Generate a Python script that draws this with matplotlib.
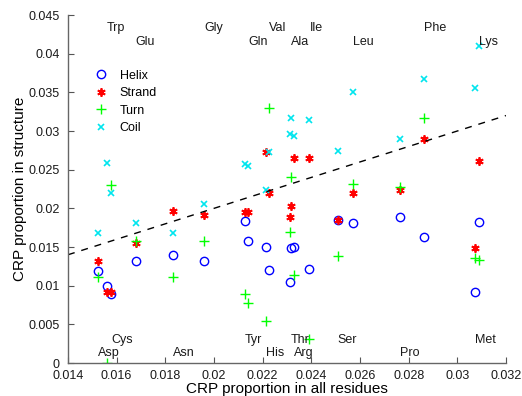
import matplotlib
matplotlib.use("Agg")
import matplotlib.pyplot as plt
from matplotlib.ticker import FuncFormatter
import numpy as np

plt.rcParams['font.family'] = ['Liberation Sans', 'DejaVu Sans']

# amino acids, sorted by their proportion in all residues
residues = ['Asp', 'Trp', 'Cys', 'Glu', 'Asn', 'Gly', 'Tyr', 'Gln', 'His', 'Val',
            'Thr', 'Ala', 'Arg', 'Ile', 'Ser', 'Leu', 'Pro', 'Phe', 'Met', 'Lys']
x_all = [0.01522, 0.01559, 0.01577, 0.01678, 0.01830, 0.01959, 0.02127, 0.02141,
         0.02214, 0.02227, 0.02314, 0.02316, 0.02330, 0.02392, 0.02508, 0.02572,
         0.02764, 0.02863, 0.03073, 0.03089]
helix = [0.01190, 0.01000, 0.00888, 0.01319, 0.01397, 0.01319, 0.01836, 0.01578,
         0.01500, 0.01203, 0.01047, 0.01491, 0.01500, 0.01216, 0.01849, 0.01810,
         0.01884, 0.01625, 0.00922, 0.01819]
strand = [0.01319, 0.00918, 0.00918, 0.01548, 0.01966, 0.01914, 0.01949, 0.01949,
          0.02732, 0.02194, 0.01888, 0.02030, 0.02655, 0.02655, 0.01849, 0.02202,
          0.02237, 0.02897, 0.01483, 0.02612]
turn = [0.01110, 0.0, 0.02302, 0.01582, 0.01116, 0.01582, 0.00892, 0.00776,
        0.00543, 0.03294, 0.01690, 0.02409, 0.01142, 0.00306, 0.01384, 0.02315,
        0.02280, 0.03164, 0.01354, 0.01332]
coil = [0.01677, 0.02582, 0.02202, 0.01810, 0.01677, 0.02056, 0.02567, 0.02548,
        0.02237, 0.02732, 0.02961, 0.03172, 0.02939, 0.03142, 0.02745, 0.03504,
        0.02897, 0.03673, 0.03560, 0.04103]

xlim = (0.014, 0.032)
ylim = (0, 0.045)

fig = plt.figure(figsize=(5.22, 3.96), dpi=100)
ax = fig.add_axes([0.1303, 0.0833, 0.8390, 0.8788])

ax.plot(x_all, helix, 'o', mfc='none', mec='#0000ff', ms=6, mew=1.0, label='Helix')
ax.plot(x_all, strand, ls='none', marker=(6, 2, 0), color='#ff0000', ms=6, mew=1.3, label='Strand')
ax.plot(x_all, turn, '+', color='#00ff00', ms=7, mew=1.0, label='Turn')
ax.plot(x_all, coil, 'x', color='#00e5ee', ms=4, mew=1.2, label='Coil')

# y = x reference line
ax.plot(xlim, xlim, '--', color='black', lw=1.0, dashes=(5, 5))

# residue names: alternate bottom-low, top-high, bottom-high, top-low
label_y = [0.0013, 0.0433, 0.0030, 0.0415]
for i, (name, xv) in enumerate(zip(residues, x_all)):
    ax.text(xv, label_y[i % 4], name, ha='left', va='center', fontsize=9,
            color='#1a1a1a')

ax.set_xlim(xlim)
ax.set_ylim(ylim)
ax.set_xticks(np.arange(0.014, 0.0321, 0.002))
ax.set_yticks(np.arange(0, 0.0451, 0.005))
ax.xaxis.set_major_formatter(FuncFormatter(lambda v, p: '%g' % round(v, 4)))
ax.yaxis.set_major_formatter(FuncFormatter(lambda v, p: '%g' % round(v, 4)))
ax.tick_params(direction='in', length=4, width=0.8, color='#555555',
               labelsize=9, labelcolor='#1a1a1a')
ax.tick_params(axis='x', pad=5)
ax.tick_params(axis='y', pad=6)
for s in ['top', 'right']:
    ax.spines[s].set_visible(False)
for s in ['left', 'bottom']:
    ax.spines[s].set_color('#666666')
    ax.spines[s].set_linewidth(1.0)

ax.set_xlabel('CRP proportion in all residues', fontsize=11, labelpad=0)
ax.set_ylabel('CRP proportion in structure', fontsize=11, labelpad=1)

ax.legend(loc='upper left', bbox_to_anchor=(0.0425, 0.857), frameon=False,
          fontsize=9, handlelength=1.5, handletextpad=0.75, labelspacing=0.44,
          borderaxespad=0)

fig.savefig('out.png', dpi=100)
